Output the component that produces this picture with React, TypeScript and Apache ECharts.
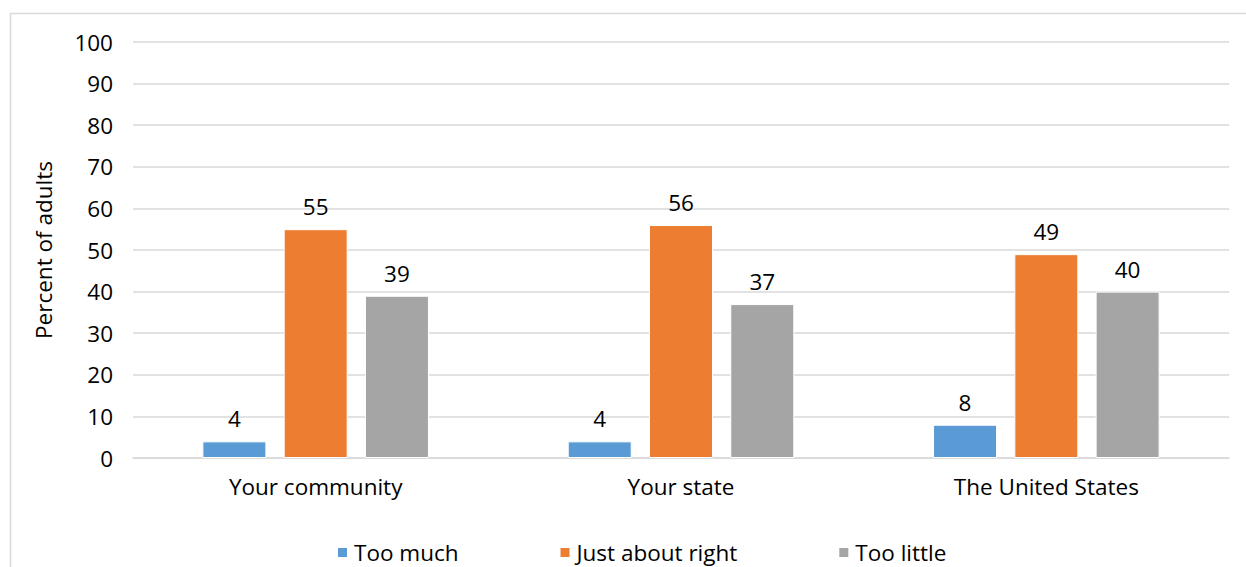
import React, { useEffect, useRef } from "react";
import * as echarts from "echarts";

const categories = ["Your community", "Your state", "The United States"];
const tooMuch = [4, 4, 8];
const justAboutRight = [55, 56, 49];
const tooLittle = [39, 37, 40];
const seriesNames = ["Too much", "Just about right", "Too little"];
const colors = ["#5B9BD5", "#ED7D31", "#A5A5A5"];

const FONT = "'Open Sans', Roboto, sans-serif";
const FS = 22.5;

export default function App() {
  const ref = useRef<HTMLDivElement>(null);

  useEffect(() => {
    if (!ref.current) return;
    const chart = echarts.init(ref.current, undefined, { renderer: "svg" });
    const values = [tooMuch, justAboutRight, tooLittle];
    chart.setOption({
      animation: false,
      backgroundColor: "#ffffff",
      textStyle: { fontFamily: FONT },
      graphic: [
        {
          type: "rect",
          shape: { x: 10.5, y: 13.5, width: 1300, height: 700 },
          style: { fill: "none", stroke: "#D9D9D9", lineWidth: 1.5 },
          silent: true,
        },
      ],
      grid: { left: 133, right: 17, top: 42, bottom: 109, containLabel: false },
      legend: {
        data: seriesNames,
        top: 541,
        left: 336,
        padding: 0,
        icon: "rect",
        itemWidth: 11,
        itemHeight: 11,
        itemGap: 100,
        textStyle: { fontFamily: FONT, fontSize: FS, color: "#000", padding: [0, 0, 0, 1] },
      },
      xAxis: {
        type: "category",
        data: categories,
        axisLine: { lineStyle: { color: "#D9D9D9", width: 1.5 } },
        axisTick: { show: false },
        axisLabel: { fontFamily: FONT, fontSize: FS, color: "#000", margin: 17 },
      },
      yAxis: {
        type: "value",
        min: 0,
        max: 100,
        interval: 10,
        name: "Percent of adults",
        nameLocation: "middle",
        nameGap: 78,
        nameRotate: 90,
        nameTextStyle: { fontFamily: FONT, fontSize: FS, color: "#000" },
        axisLine: { show: false },
        axisTick: { show: false },
        axisLabel: { fontFamily: FONT, fontSize: FS, color: "#000", margin: 20 },
        splitLine: { lineStyle: { color: "#D9D9D9", width: 1.5 } },
      },
      series: seriesNames.map((name, i) => ({
        name,
        type: "bar",
        data: values[i],
        barWidth: 64,
        barGap: "27%",
        itemStyle: { color: colors[i], borderColor: "#ffffff", borderWidth: 1 },
        label: {
          show: true,
          position: "top",
          distance: 11,
          fontFamily: FONT,
          fontSize: FS,
          color: "#000",
        },
      })),
    });
    return () => chart.dispose();
  }, []);

  return (
    <div
      ref={ref}
      style={{ position: "absolute", left: 0, top: 0, width: 1246, height: 567 }}
    />
  );
}
